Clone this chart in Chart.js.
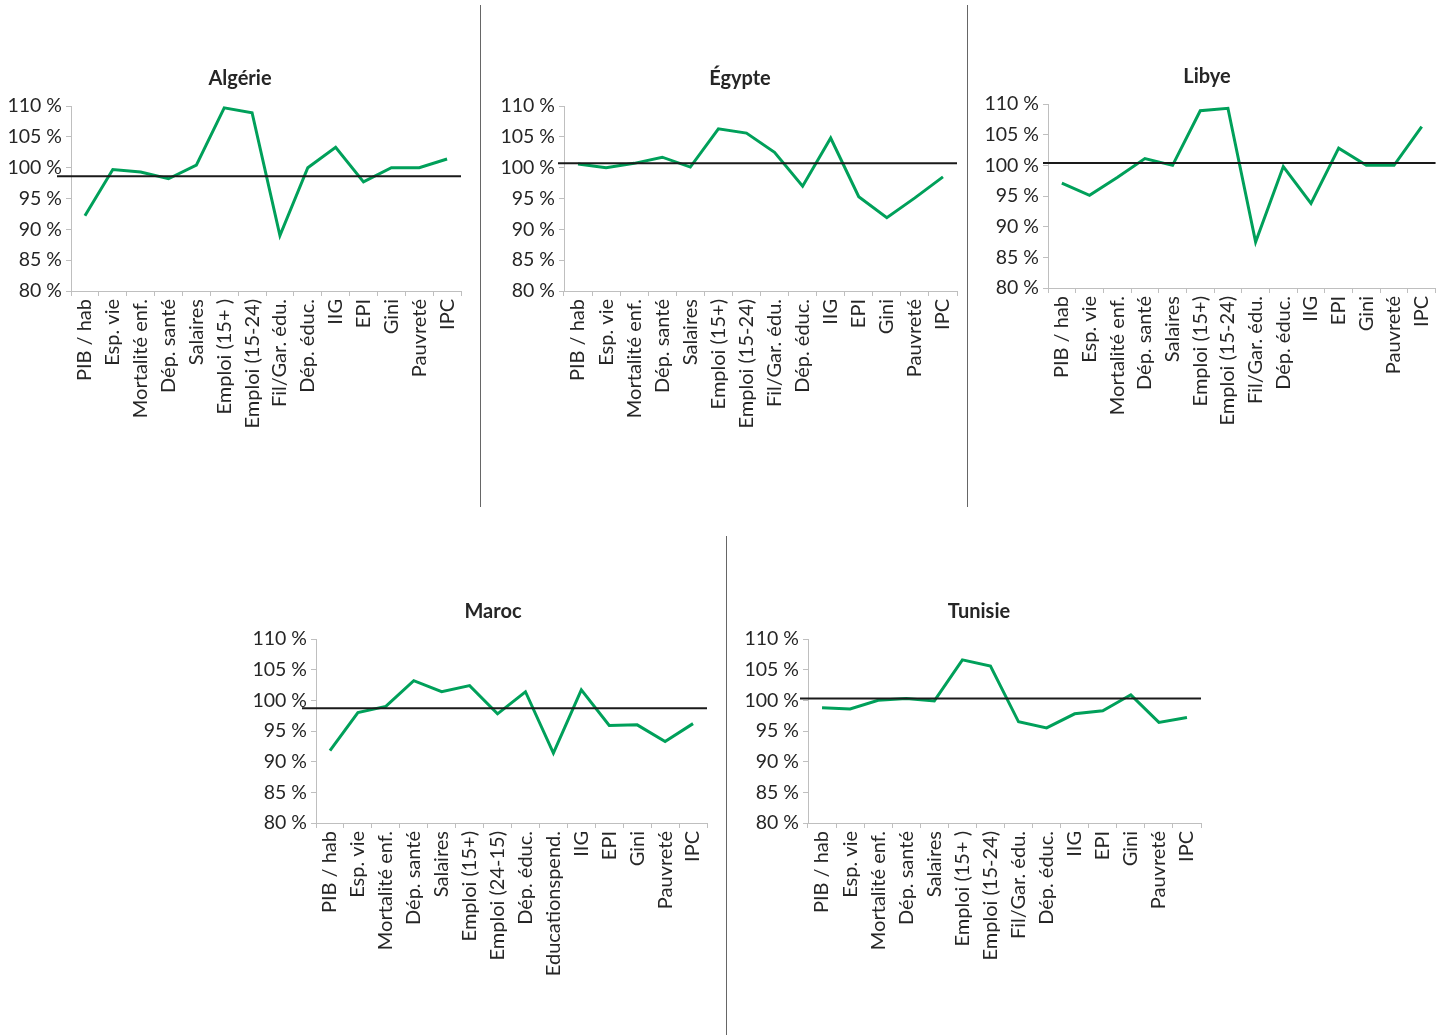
<!DOCTYPE html>
<html>
<head>
<meta charset="utf-8">
<script src="https://cdn.jsdelivr.net/npm/chart.js@4/dist/chart.umd.min.js"></script>
<style>
  body { margin: 0; background: #fff; width: 1451px; height: 1035px; position: relative; overflow: hidden; }
  .box { position: absolute; }
  .sep { position: absolute; width: 1px; background: #666; }
</style>
</head>
<body>
<div class="sep" style="left:480px;top:5px;height:502px"></div>
<div class="sep" style="left:967px;top:5px;height:502px"></div>
<div class="sep" style="left:726px;top:536px;height:499px"></div>

<script>
// catégories
const labelsStd = ['PIB / hab', 'Esp. vie', 'Mortalité enf.', 'Dép. santé', 'Salaires', 'Emploi (15+ )',
    'Emploi (15-24)', 'Fil/Gar. édu.', 'Dép. éduc.', 'IIG', 'EPI', 'Gini', 'Pauvreté', 'IPC'];
const labelsEgLy = ['PIB / hab', 'Esp. vie', 'Mortalité enf.', 'Dép. santé', 'Salaires', 'Emploi (15+)',
    'Emploi (15-24)', 'Fil/Gar. édu.', 'Dép. éduc.', 'IIG', 'EPI', 'Gini', 'Pauvreté', 'IPC'];
const labelsMaroc = ['PIB / hab', 'Esp. vie', 'Mortalité enf.', 'Dép. santé', 'Salaires', 'Emploi (15+)',
    'Emploi (24-15)', 'Dép. éduc.', 'Educationspend.', 'IIG', 'EPI', 'Gini', 'Pauvreté', 'IPC'];

// valeurs (%)
const algerie = [92.2, 99.7, 99.3, 98.2, 100.4, 109.7, 108.9, 89.0, 100.0, 103.3, 97.7, 100.0, 100.0, 101.4];
const egypte  = [100.6, 100.0, 100.7, 101.7, 100.1, 106.3, 105.6, 102.5, 97.0, 104.8, 95.3, 91.9, 95.1, 98.5];
const libye   = [97.1, 95.1, 98.0, 101.1, 100.0, 108.9, 109.3, 87.5, 99.8, 93.8, 102.8, 100.0, 100.0, 106.3];
const maroc   = [91.8, 98.0, 99.0, 103.2, 101.4, 102.4, 97.8, 101.4, 91.4, 101.7, 95.9, 96.0, 93.3, 96.2];
const tunisie = [98.8, 98.6, 100.0, 100.3, 99.9, 106.6, 105.6, 96.5, 95.5, 97.8, 98.3, 100.9, 96.4, 97.2];

// lignes de référence
const refValues = { 'Algérie': 98.6, 'Égypte': 100.7, 'Libye': 100.4, 'Maroc': 98.7, 'Tunisie': 100.3 };

const yTicks = [80, 85, 90, 95, 100, 105, 110];

// mise en page (pixels)
const panneaux = [
    { nom: 'Algérie', labels: labelsStd,   data: algerie, left: 0,   top: 60,  width: 480, axisW: 71, plotH: 185, padR: 19, refExt: 14, titreX: 240 },
    { nom: 'Égypte',  labels: labelsEgLy,  data: egypte,  left: 490, top: 60,  width: 500, axisW: 74, plotH: 185, padR: 33, refExt: 6,  titreX: 740 },
    { nom: 'Libye',   labels: labelsEgLy,  data: libye,   left: 965, top: 58,  width: 484, axisW: 83, plotH: 184, padR: 8,  refExt: 5,  titreX: 1207 },
    { nom: 'Maroc',   labels: labelsMaroc, data: maroc,   left: 245, top: 593, width: 496, axisW: 71, plotH: 184, padR: 34, refExt: 14, titreX: 493 },
    { nom: 'Tunisie', labels: labelsStd,   data: tunisie, left: 738, top: 593, width: 482, axisW: 70, plotH: 184, padR: 19, refExt: 8,  titreX: 979 }
];

const X_HEIGHT = 170;

const refLinePlugin = {
    id: 'refLine',
    afterLayout(chart, args, opts) {
        // recentrer le titre
        const tb = chart.titleBlock;
        const half = (tb.right - tb.left) / 2;
        tb.left = opts.titreX - half;
        tb.right = opts.titreX + half;
    },
    afterDatasetsDraw(chart, args, opts) {
        const y = chart.scales.y.getPixelForValue(opts.value);
        const ctx = chart.ctx;
        ctx.save();
        ctx.strokeStyle = '#1a1a1a';
        ctx.lineWidth = 2;
        ctx.beginPath();
        ctx.moveTo(chart.chartArea.left - opts.ext, y);
        ctx.lineTo(chart.chartArea.right, y);
        ctx.stroke();
        ctx.restore();
    }
};

panneaux.forEach(p => {
    const div = document.createElement('div');
    div.className = 'box';
    const h = 46 + p.plotH + X_HEIGHT;
    div.style.left = p.left + 'px';
    div.style.top = p.top + 'px';
    div.style.width = p.width + 'px';
    div.style.height = h + 'px';
    const cv = document.createElement('canvas');
    div.appendChild(cv);
    document.body.appendChild(div);

    new Chart(cv.getContext('2d'), {
        type: 'line',
        data: {
            labels: p.labels,
            datasets: [{
                data: p.data,
                borderColor: '#00a05a',
                borderWidth: 3,
                pointRadius: 0,
                tension: 0,
                fill: false
            }]
        },
        plugins: [refLinePlugin],
        options: {
            responsive: true,
            maintainAspectRatio: false,
            animation: false,
            layout: { padding: { left: 0, right: p.padR, top: 0, bottom: 0 } },
            plugins: {
                legend: { display: false },
                tooltip: { enabled: false },
                title: {
                    display: true,
                    text: p.nom,
                    color: '#262626',
                    font: { family: 'Lato', size: 20, weight: 'bold' },
                    padding: { top: 7, bottom: 15 }
                },
                refLine: { value: refValues[p.nom], ext: p.refExt, titreX: p.titreX - p.left }
            },
            scales: {
                x: {
                    offset: true,
                    grid: { offset: true, drawOnChartArea: false, drawTicks: true, tickLength: 5, color: '#bfbfbf' },
                    border: { color: '#bfbfbf', width: 1 },
                    ticks: {
                        autoSkip: false,
                        maxRotation: 90,
                        minRotation: 90,
                        color: '#262626',
                        padding: 3,
                        font: { family: 'Lato', size: 20 }
                    },
                    afterFit: s => { s.height = X_HEIGHT; }
                },
                y: {
                    min: 80,
                    max: 110,
                    afterBuildTicks: s => { s.ticks = yTicks.map(v => ({ value: v })); },
                    grid: { drawOnChartArea: false, drawTicks: true, tickLength: 5, color: '#bfbfbf' },
                    border: { color: '#bfbfbf', width: 1 },
                    ticks: {
                        color: '#262626',
                        padding: 4,
                        font: { family: 'Lato', size: 19.5 },
                        callback: v => v + ' %'
                    },
                    afterFit: s => { s.width = p.axisW; }
                }
            }
        }
    });
});
</script>
</body>
</html>
